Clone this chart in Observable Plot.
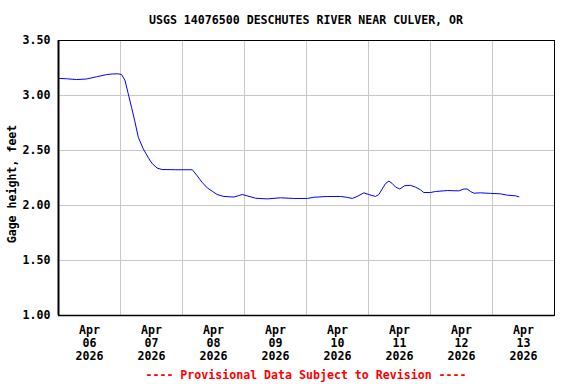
<!DOCTYPE html>
<html>
<head>
<meta charset="utf-8">
<script src="https://cdn.jsdelivr.net/npm/d3@7"></script>
<script src="https://cdn.jsdelivr.net/npm/@observablehq/plot@0.6"></script>
<style>
  html, body { margin: 0; padding: 0; background: #fff; }
  body { width: 576px; height: 384px; overflow: hidden; font-family: "DejaVu Sans Mono", monospace; font-weight: bold; font-size: 11.6px; }
  #title { height: 17px; padding-top: 13px; padding-left: 36px; width: 540px; text-align: center; line-height: 14px; color: #000; }
  #caption { height: 16px; padding-top: 2px; padding-left: 36px; width: 540px; text-align: center; line-height: 14px; color: #ff0000; }
  svg { display: block; }
</style>
</head>
<body>
<div id="title"></div>
<div id="chart"></div>
<div id="caption"></div>
<script>
const titleText = "USGS 14076500 DESCHUTES RIVER NEAR CULVER, OR";
const captionText = "---- Provisional Data Subject to Revision ----";
const yLabel = "Gage height, feet";

// hours since 2026-04-06 00:00
const hours = [0, 3.1, 7, 10.8, 14.7, 18.6, 20.9, 23.1, 24.4, 25.7, 27, 28.3, 29.5, 30.9, 32.8, 33.8, 35, 36.3, 38.2, 40.1, 45.3, 51.8, 53.7, 55.6, 57.6, 59.5, 61.4, 64, 67.9, 69.8, 71.1, 73, 76.3, 80.8, 85.9, 91.1, 96.3, 98.8, 104, 109.2, 111.5, 113.7, 115.6, 118.2, 120.1, 122.7, 124, 125.3, 126.6, 127.9, 129.2, 130.5, 132.1, 134, 136.3, 138.2, 140.1, 141.4, 144, 145.9, 150.5, 155, 156.9, 158.2, 159.5, 160.8, 163.4, 167.2, 171.1, 173.7, 176.9, 178.2];
const gage = [3.155, 3.152, 3.145, 3.15, 3.17, 3.19, 3.196, 3.197, 3.19, 3.14, 3.015, 2.89, 2.77, 2.62, 2.515, 2.475, 2.425, 2.38, 2.34, 2.327, 2.325, 2.325, 2.27, 2.21, 2.16, 2.13, 2.10, 2.082, 2.077, 2.09, 2.10, 2.088, 2.066, 2.06, 2.07, 2.064, 2.064, 2.075, 2.082, 2.082, 2.075, 2.064, 2.082, 2.115, 2.10, 2.082, 2.10, 2.15, 2.20, 2.222, 2.20, 2.167, 2.15, 2.18, 2.183, 2.167, 2.143, 2.118, 2.118, 2.127, 2.136, 2.133, 2.15, 2.15, 2.127, 2.112, 2.115, 2.11, 2.106, 2.094, 2.088, 2.079];

const tickMonth = "Apr";
const tickDays = ["06", "07", "08", "09", "10", "11", "12", "13"];
const tickYear = "2026";
const yTicks = [1.00, 1.50, 2.00, 2.50, 3.00, 3.50];

const t0 = Date.UTC(2026, 3, 6);
const dayMs = 864e5;
const data = hours.map((h, i) => ({date: new Date(t0 + h * 3600e3), gage: gage[i]}));
const xTicks = tickDays.map((d, i) => new Date(t0 + i * dayMs + dayMs / 2));
const dayBreaks = tickDays.slice(1).map((d, i) => new Date(t0 + (i + 1) * dayMs));

document.getElementById("title").textContent = titleText;
document.getElementById("caption").textContent = captionText;

const chart = Plot.plot({
  width: 576,
  height: 336,
  marginTop: 10,
  marginLeft: 58,
  marginRight: 22,
  marginBottom: 51,
  style: {fontFamily: "DejaVu Sans Mono", fontWeight: "bold", fontSize: "11.6px", color: "#000", background: "#fff"},
  x: {type: "utc", domain: [new Date(t0), new Date(t0 + 8 * dayMs)]},
  y: {domain: [1, 3.5]},
  marks: [
    Plot.ruleX(dayBreaks, {stroke: "#c8c8c8", strokeWidth: 1}),
    Plot.ruleY(yTicks.slice(1, -1), {stroke: "#c8c8c8", strokeWidth: 1}),
    Plot.axisY(yTicks, {tickSize: 0, tickPadding: 8, tickFormat: d => d.toFixed(2), label: null, fontSize: 11.6}),
    Plot.axisX(xTicks, {tickSize: 0, tickPadding: 9, lineHeight: 1.12, label: null, fontSize: 11.6,
      tickFormat: d => `${tickMonth}\n${tickDays[xTicks.findIndex(t => +t === +d)]}\n${tickYear}`}),
    Plot.text([yLabel], {frameAnchor: "left", text: d => d, rotate: -90, textAnchor: "middle", dx: -46, dy: 6, fontSize: 11.6, fill: "#000"}),
    Plot.line(data, {x: "date", y: "gage", stroke: "#0000ff", strokeWidth: 1}),
    Plot.frame({stroke: "#000", strokeWidth: 1}),
    Plot.ruleX([new Date(t0)], {stroke: "#000", strokeWidth: 2}),
    Plot.ruleY([yTicks[0]], {stroke: "#000", strokeWidth: 1.5})
  ]
});
document.getElementById("chart").appendChild(chart);
</script>
</body>
</html>
